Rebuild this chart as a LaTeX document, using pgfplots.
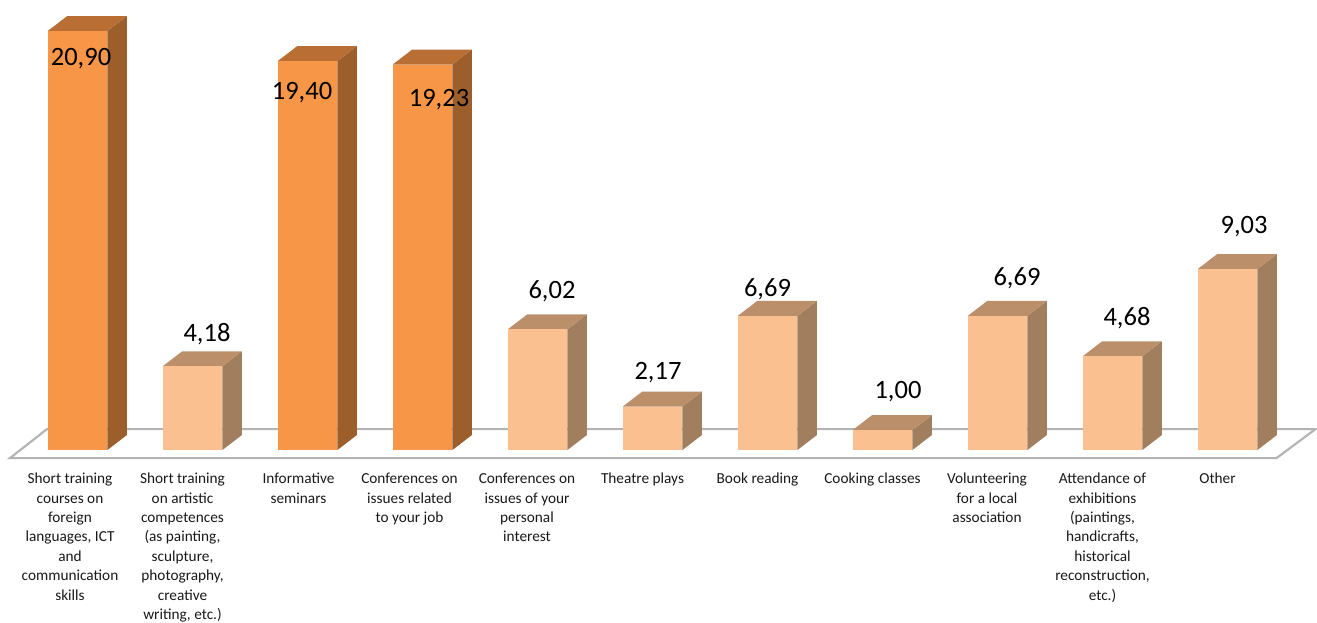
\documentclass[border=0pt]{standalone}
\usepackage{pgfplots}
\pgfplotsset{compat=1.18}
\usepackage{fontspec}
\setmainfont{Carlito}

\definecolor{hiFront}{HTML}{F79646}
\definecolor{hiTop}{HTML}{B96F33}
\definecolor{hiSide}{HTML}{9C5F2C}
\definecolor{loFront}{HTML}{FBC08F}
\definecolor{loTop}{HTML}{BC8F6B}
\definecolor{loSide}{HTML}{A07E5E}
\definecolor{floorLine}{HTML}{B4B4B4}

% half width of a bar and the oblique depth, in axis units
\pgfmathsetmacro{\hw}{29.8/115}
\pgfmathsetmacro{\ddx}{19.5/115}
\pgfmathsetmacro{\ddy}{15/20.05}

% position, value, colour prefix, value label and its offset from the bar top
\newcommand{\threedbar}[6]{%
  \pgfmathsetmacro{\xl}{#1-\hw}%
  \pgfmathsetmacro{\xr}{#1+\hw}%
  \pgfmathsetmacro{\xlb}{\xl+\ddx}%
  \pgfmathsetmacro{\xrb}{\xr+\ddx}%
  \pgfmathsetmacro{\yt}{#2+\ddy}%
  \edef\drawbar{%
    \noexpand\addplot[fill=#3Side, draw=none] coordinates {(\xr,0) (\xrb,\ddy) (\xrb,\yt) (\xr,#2)} --cycle;
    \noexpand\addplot[fill=#3Top, draw=none] coordinates {(\xl,#2) (\xr,#2) (\xrb,\yt) (\xlb,\yt)} --cycle;
    \noexpand\addplot[fill=#3Front, draw=none] coordinates {(\xl,0) (\xr,0) (\xr,#2) (\xl,#2)} --cycle;
    \noexpand\node[font=\noexpand\valfont, xshift=#5pt, yshift=#6pt] at (axis cs:#1,#2) {#4};
  }%
  \drawbar
}
\newcommand{\valfont}{\fontsize{26.5}{28}\selectfont}

\begin{document}
\begin{tikzpicture}
\begin{axis}[
  scale only axis,
  width=1317pt, height=622pt,
  xmin=-0.67391, xmax=10.77826,
  ymin=-8.5786, ymax=22.4439,
  clip=false,
  axis line style={draw=none},
  ymajorticks=false,
  major tick length=0pt,
  xtick={-0.0652,0.9130,1.9217,2.8870,3.9087,4.9130,5.9130,6.9130,7.9087,8.9130,9.9130},
  xticklabels={
    {Short training\\courses on\\foreign\\languages, ICT\\and\\communication\\skills},
    {Short training\\on artistic\\competences\\(as painting,\\sculpture,\\photography,\\creative\\writing, etc.)},
    {Informative\\seminars},
    {Conferences on\\issues related\\to your job},
    {Conferences on\\issues of your\\personal\\interest},
    {Theatre plays},
    {Book reading},
    {Cooking classes},
    {Volunteering\\for a local\\association},
    {Attendance of\\exhibitions\\(paintings,\\handicrafts,\\historical\\reconstruction,\\etc.)},
    {Other}
  },
  xticklabel style={
    align=center, anchor=north, inner sep=0pt,
    yshift=149pt,
    font=\fontsize{15.3}{19.35}\selectfont,
    text=black!90
  },
]
% floor of the chart
\addplot[fill=white, draw=floorLine, line width=2.2pt, line join=miter]
  coordinates {(-0.5870,-0.3990) (10.4261,-0.3990) (10.7652,1.0474) (-0.2652,1.0474)} --cycle;

\threedbar{0}{20.90}{hi}{20,90}{3.5}{-27.5}
\threedbar{1}{4.18}{lo}{4,18}{14.5}{32}
\threedbar{2}{19.40}{hi}{19,40}{-5.5}{-31}
\threedbar{3}{19.23}{hi}{19,23}{16.5}{-35}
\threedbar{4}{6.02}{lo}{6,02}{14.5}{38}
\threedbar{5}{2.17}{lo}{2,17}{5.5}{33.5}
\threedbar{6}{6.69}{lo}{6,69}{0}{27}
\threedbar{7}{1.00}{lo}{1,00}{15.5}{38}
\threedbar{8}{6.69}{lo}{6,69}{19.5}{38}
\threedbar{9}{4.68}{lo}{4,68}{14.5}{38}
\threedbar{10}{9.03}{lo}{9,03}{16.5}{42}
\end{axis}
\end{tikzpicture}
\end{document}
